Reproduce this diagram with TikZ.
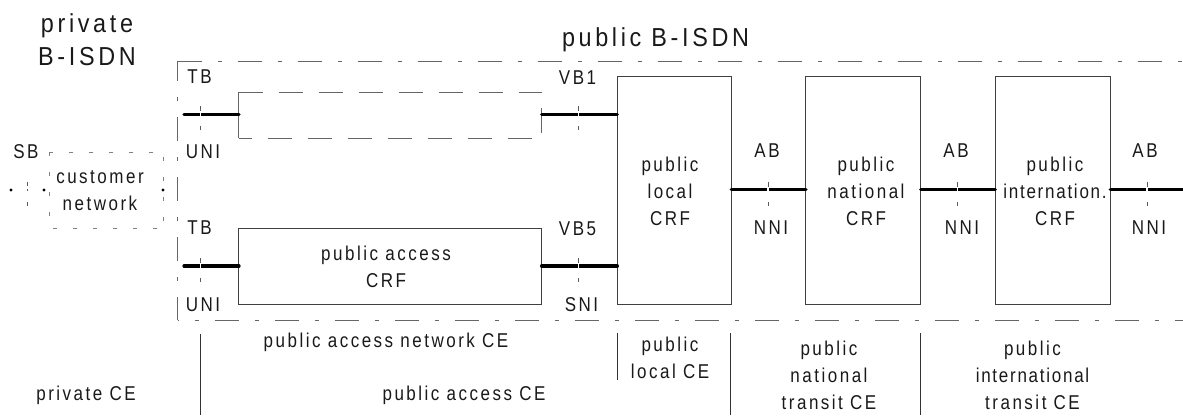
\documentclass[tikz,border=0pt]{standalone}
\usepackage{fontspec}
\setmainfont[LetterSpace=12.5,FakeStretch=0.85]{Liberation Sans}
\newfontfamily\bigf[LetterSpace=14,FakeStretch=0.9]{Liberation Sans}
\newfontfamily\tightf[LetterSpace=8.7,FakeStretch=0.85]{Liberation Sans}
\tikzset{
 lab/.style={font=\fontsize{15}{20.3}\selectfont,align=center,inner sep=0pt,text=black!90},
 biglab/.style={font=\bigf\fontsize{19.5}{24.5}\selectfont,align=center,inner sep=0pt,text=black!90},
 crf/.style={draw=black!75,line width=0.75pt,inner sep=0pt,outer sep=0pt},
 thickline/.style={line width=2.5pt,line cap=round},
 tickmark/.style={line width=0.6pt,draw=black!65},
 divider/.style={line width=0.6pt,draw=black!80},
 dashdot/.style={line width=0.75pt,draw=black!60,dash pattern=on 18pt off 12pt on 3pt off 12pt},
 longdash/.style={line width=0.75pt,draw=black!60,dash pattern=on 18pt off 12pt},
 solidthin/.style={line width=0.75pt,draw=black!60},
 dots/.style={line width=0.75pt,draw=black!50,dash pattern=on 3pt off 12pt},
}
\begin{document}
\begin{tikzpicture}[x=0.75pt,y=-0.75pt]
\useasboundingbox (0,0) rectangle (1183,415);
% outer frame
\coordinate (fTL) at (177.5,61); \coordinate (fTR) at (1183,61);
\coordinate (fBL) at (177.5,320); \coordinate (fBR) at (1183,320);
\draw[dashdot] (fTL) -- (fTR);
\draw[dashdot,dash phase=17.25pt] (fBL) -- (fBR);
\draw[dashdot,dash phase=3pt] (fTL) -- (fBL);
% CRF boxes
\node[crf,minimum width=302.7*0.75pt,minimum height=76*0.75pt] (acc) at (390.3,266.3) {};
\node[crf,minimum width=114*0.75pt,minimum height=227.6*0.75pt] (loc) at (674.3,190.5) {};
\node[crf,minimum width=114.7*0.75pt,minimum height=227.6*0.75pt] (nat) at (863.3,190.5) {};
\node[crf,minimum width=115*0.75pt,minimum height=227.6*0.75pt] (int) at (1052.8,190.5) {};
% dashed box
\coordinate (dTL) at (238.5,92); \coordinate (dTR) at (542,92);
\coordinate (dBL) at (238.5,138); \coordinate (dBR) at (541.7,138);
\coordinate (dRa) at (541.7,108); \coordinate (dRb) at (541.7,133);
\draw[longdash] (dTL) -- (dTR);
\draw[longdash,dash phase=8.25pt] (dBL) -- (dBR);
\draw[solidthin] (dTL) -- (dBL);
\draw[solidthin] (dRa) -- (dRb);
% customer network
\coordinate (cTL) at (49,152); \coordinate (cTR) at (163,152);
\coordinate (cBL) at (49,228); \coordinate (cBR) at (163,228);
\draw[dots] (cTL) -- (cTR);
\draw[dots,dash phase=12pt] (cBL) -- (cBR);
\draw[dots] (cTL) -- (cBL);
\draw[dots,dash phase=11.25pt] (cTR) -- (cBR);
% links
\coordinate (t1) at (184,114.3); \coordinate (t1e) at (239,114.3);
\coordinate (t2) at (184,266);
\coordinate (v1) at (541.7,114.3);
\coordinate (lnk) at (1183,189.8);
\draw[thickline] (t1) -- (t1e);
\draw[thickline] (v1) -- (loc.west |- v1);
\draw[thickline] (t2) -- (acc.west |- t2);
\draw[thickline] (acc.east |- t2) -- (loc.west |- t2);
\draw[thickline] (loc.east |- lnk) -- (nat.west |- lnk);
\draw[thickline] (nat.east |- lnk) -- (int.west |- lnk);
\draw[thickline] (int.east |- lnk) -- (lnk);
% ticks
\foreach \x/\y in {200.3/114.3,200.3/266,578.7/114.3,578.7/266,768/189.8,957.5/189.8,1147/189.8}{
  \draw[white,line width=0.9pt] (\x,\y-4) -- (\x,\y+4);
  \draw[tickmark] (\x,\y-8) -- (\x,\y-3);
  \draw[tickmark] (\x,\y+12) -- (\x,\y+16);
}
\foreach \a/\b in {182/186,189/191,202/206}{\draw[tickmark] (27,\a) -- (27,\b);}
% dots
\foreach \x in {11,44,163}{\fill (\x,190) circle (1.7);}
% dividers
\draw[divider] (200.5,334) -- (200.5,415);
\draw[divider] (617.3,333) -- (617.3,380);
\draw[divider] (730.5,333) -- (730.5,415);
\draw[divider] (920,333) -- (920,415);
% labels
\node[biglab] (l1) at (87,40) {private\\B-ISDN};
\node[biglab] (l2) at (655.5,39.5) {public B-ISDN};
\node[lab] (n1) at (199.5,77) {TB};
\node[lab] (n2) at (203,152) {UNI};
\node[lab] (n3) at (26,152) {SB};
\node[lab] (n4) at (199.5,228) {TB};
\node[lab] (n5) at (203,304.5) {UNI};
\node[lab] (n6) at (577.5,77.5) {VB1};
\node[lab] (n7) at (577.5,229) {VB5};
\node[lab] (n8) at (581.5,304.5) {SNI};
\node[lab] (n9) at (767,150.5) {AB};
\node[lab] (n10) at (956,150.5) {AB};
\node[lab] (n11) at (1145,150.5) {AB};
\node[lab] (n12) at (771,227.5) {NNI};
\node[lab] (n13) at (962,227.5) {NNI};
\node[lab] (n14) at (1149,227.5) {NNI};
\node[lab] (n15) at (100,191) {customer\\network};
\node[lab] (n16) at (386,267) {public access\\CRF};
\node[lab] (n17) at (670,191) {public\\local\\CRF};
\node[lab] (n18) at (866,191) {public\\national\\CRF};
\node[lab] (n19) at (1055,191) {public\\{\tightf internation.}\\CRF};
\node[lab] (n20) at (386,342) {public access network CE};
\node[lab] (n21) at (86,395) {private CE};
\node[lab] (n22) at (464,395) {public access CE};
\node[lab] (n23) at (670,358) {public\\local CE};
\node[lab] (n24) at (829,375) {public\\national\\transit CE};
\node[lab] (n25) at (1032.5,375) {public\\{\tightf international}\\transit CE};
\end{tikzpicture}
\end{document}
